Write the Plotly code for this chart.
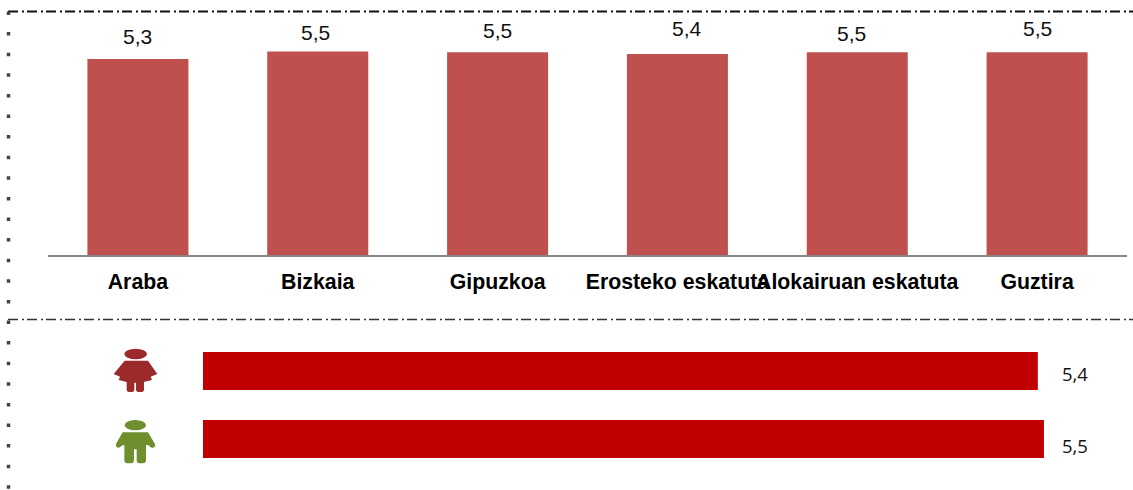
import plotly.graph_objects as go

W, H = 1133, 490

# Data
categories = ["Araba", "Bizkaia", "Gipuzkoa", "Erosteko eskatuta", "Alokairuan eskatuta", "Guztira"]
values = [5.3, 5.5, 5.48, 5.43, 5.48, 5.48]
value_labels = ["5,3", "5,5", "5,5", "5,4", "5,5", "5,5"]
sex_groups = ["Emakumeak", "Gizonak"]
sex_values = [5.46, 5.5]
sex_labels = ["5,4", "5,5"]

# Hand offsets of the value labels in the original (pixels)
label_dx = [0, -2, 0, 10, -6, 0]
label_top = [36, 32.5, 30.5, 28.5, 34, 28.5]


def px(x):
    return x / W


def py(y):
    return 1 - y / H


def icon_path(cmds):
    """Icon outline written in reference pixels x3 (origin at y=320) -> paper coords."""
    out = []
    for c in cmds:
        if isinstance(c, str):
            out.append(c)
        else:
            out.append(f"{px(c[0] / 3):.5f},{py(320 + c[1] / 3):.5f}")
    return " ".join(out)


fig = go.Figure()

fig.add_trace(go.Bar(
    x=categories, y=values, width=0.5617, marker=dict(color="#C0504D", line=dict(width=0)),
    xaxis="x", yaxis="y", showlegend=False, hoverinfo="x+y",
))
fig.add_trace(go.Bar(
    y=sex_groups, x=sex_values, orientation="h", width=0.56,
    marker=dict(color="#C00000", line=dict(width=0)),
    xaxis="x2", yaxis="y2", showlegend=False, hoverinfo="y+x",
))

annotations = []
for cat, lab, dx, top in zip(categories, value_labels, label_dx, label_top):
    annotations.append(dict(
        x=cat, xref="x", xshift=dx, y=py(top), yref="paper", yanchor="middle", text=lab, showarrow=False,
        font=dict(family="Liberation Sans, Arial, sans-serif", size=21, color="#111111"),
    ))
for lab, top in zip(sex_labels, [373, 445]):
    annotations.append(dict(
        x=px(1060), xref="paper", xanchor="left", y=py(top), yref="paper", yanchor="middle",
        text=lab, showarrow=False,
        font=dict(family="Open Sans, sans-serif", size=18.5, color="#111111"),
    ))

dash_dot = "10px,4px,2px,3px"
shapes = [
    dict(type="line", xref="paper", yref="paper", x0=px(8), x1=1, y0=py(11.5), y1=py(11.5),
         line=dict(color="#111111", width=2, dash=dash_dot)),
    dict(type="line", xref="paper", yref="paper", x0=px(8), x1=1, y0=py(319.5), y1=py(319.5),
         line=dict(color="#333333", width=1.5, dash=dash_dot)),
    dict(type="line", xref="paper", yref="paper", x0=px(8.5), x1=px(8.5), y0=py(11.5), y1=py(490),
         line=dict(color="#444444", width=3.5, dash="3.5px,17.1px")),
]

red_icon = "#9C2A2A"
green_icon = "#6F8F2F"
shapes.append(dict(type="circle", xref="paper", yref="paper",
                   x0=px(373 / 3), x1=px(441 / 3), y0=py(320 + 86 / 3), y1=py(320 + 118 / 3),
                   fillcolor=red_icon, line=dict(width=0)))
shapes.append(dict(type="path", xref="paper", yref="paper", fillcolor=red_icon, line=dict(width=0),
                   path=icon_path([
                       "M", (374, 122), "L", (444, 122), "L", (472, 162), "L", (452, 170), "L", (456, 180),
                       "L", (432, 186), "L", (432, 208), "Q", (432, 216), (425, 216), "L", (415, 216),
                       "Q", (408, 216), (408, 208), "L", (408, 188), "L", (403, 188), "L", (403, 208),
                       "Q", (403, 216), (396, 216), "L", (387, 216), "Q", (380, 216), (380, 208),
                       "L", (380, 186), "L", (356, 180), "L", (360, 170), "L", (341, 162), "Z",
                   ])))
shapes.append(dict(type="circle", xref="paper", yref="paper",
                   x0=px(374 / 3), x1=px(438 / 3), y0=py(320 + 300 / 3), y1=py(320 + 331 / 3),
                   fillcolor=green_icon, line=dict(width=0)))
shapes.append(dict(type="path", xref="paper", yref="paper", fillcolor=green_icon, line=dict(width=0),
                   path=icon_path([
                       "M", (368, 337), "L", (444, 337), "L", (465, 372), "Q", (468, 382), (458, 383),
                       "Q", (450, 384), (446, 376), "L", (438, 374), "L", (438, 420), "Q", (438, 430), (428, 430),
                       "L", (418, 430), "Q", (410, 430), (410, 420), "L", (410, 388), "L", (402, 388),
                       "L", (402, 420), "Q", (402, 430), (392, 430), "L", (382, 430), "Q", (373, 430), (373, 420),
                       "L", (373, 374), "L", (364, 378), "Q", (358, 385), (350, 382), "Q", (345, 376), (349, 370), "Z",
                   ])))

SCALE = 37.0
BASE = 255
fig.update_layout(
    width=W, height=H, margin=dict(l=0, r=0, t=0, b=0),
    paper_bgcolor="white", plot_bgcolor="white", showlegend=False,
    bargap=0.44,
    xaxis=dict(domain=[px(48), px(1127)], anchor="y", type="category", tickangle=0,
               tickfont=dict(family="Liberation Sans, Arial, sans-serif", size=21.3, color="#000000", weight="bold"),
               showline=True, linecolor="#868686", linewidth=2, showgrid=False, ticks="", zeroline=False,
               ticklabelstandoff=6),
    yaxis=dict(domain=[py(BASE), py(BASE - 6.5 * SCALE)], anchor="x", range=[0, 6.5], visible=False,
               showgrid=False, zeroline=False),
    xaxis2=dict(domain=[px(203), px(203 + 6 * 152.9)], anchor="y2", range=[0, 6], visible=False,
                showgrid=False, zeroline=False),
    yaxis2=dict(domain=[py(473), py(337)], anchor="x2", type="category", autorange="reversed",
                visible=False, showgrid=False, zeroline=False),
    annotations=annotations, shapes=shapes,
)

fig.write_html("out.html", post_script="document.body.style.margin='0';document.documentElement.style.overflow='hidden';",
               config=dict(displayModeBar=False))
